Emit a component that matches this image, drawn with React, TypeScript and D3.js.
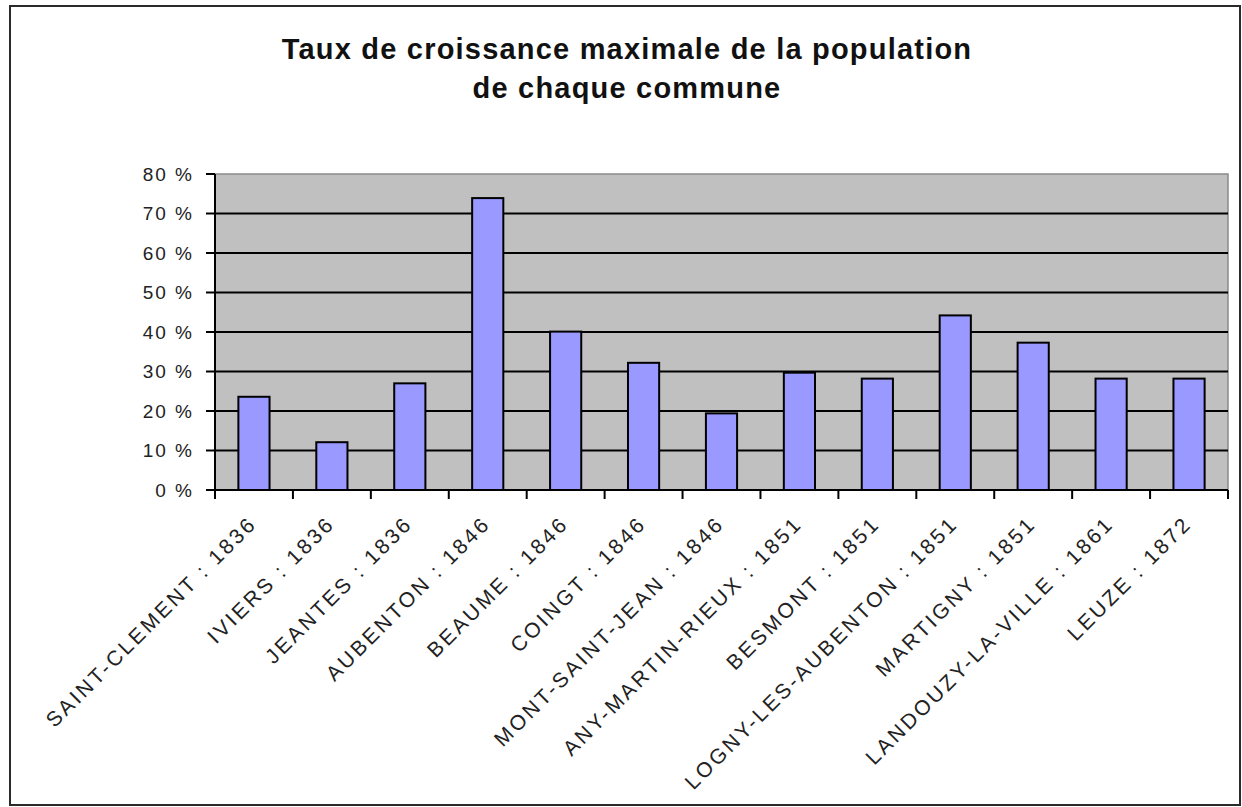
import React from "react";
import * as d3 from "d3";

const categories = [
  "SAINT-CLEMENT : 1836",
  "IVIERS : 1836",
  "JEANTES : 1836",
  "AUBENTON : 1846",
  "BEAUME : 1846",
  "COINGT : 1846",
  "MONT-SAINT-JEAN : 1846",
  "ANY-MARTIN-RIEUX : 1851",
  "BESMONT : 1851",
  "LOGNY-LES-AUBENTON : 1851",
  "MARTIGNY : 1851",
  "LANDOUZY-LA-VILLE : 1861",
  "LEUZE : 1872",
];
const values = [0.236, 0.121, 0.27, 0.739, 0.401, 0.322, 0.194, 0.297, 0.282, 0.442, 0.373, 0.282, 0.282];
const yTicks = [0, 0.1, 0.2, 0.3, 0.4, 0.5, 0.6, 0.7, 0.8];
const titleLines = ["Taux de croissance maximale de la population", "de chaque commune"];

const W = 1242;
const H = 807;
const plot = { left: 215, right: 1228, top: 174, bottom: 490 };

export default function App() {
  const x = d3
    .scaleBand<string>()
    .domain(categories)
    .range([plot.left, plot.right])
    .paddingInner(0.6)
    .paddingOuter(0.3);
  const y = d3.scaleLinear().domain([0, 0.8]).range([plot.bottom, plot.top]);
  const step = x.step();
  const boundaries = d3.range(categories.length + 1).map((i) => plot.left + i * step);
  const fmt = (v: number) => `${Math.round(v * 100)} %`;
  const font = "'Liberation Sans', Arial, sans-serif";

  return (
    <svg
      width={W}
      height={H}
      style={{ position: "absolute", left: 0, top: 0, background: "#fff" }}
      fontFamily={font}
    >
      <rect x={0} y={0} width={W} height={H} fill="#fff" />
      <rect x={10} y={6} width={1230} height={799} fill="#fff" stroke="#2a2a2a" strokeWidth={2} />

      {titleLines.map((t, i) => (
        <text
          key={t}
          x={627}
          y={59 + i * 39}
          textAnchor="middle"
          fontSize={29}
          fontWeight="bold"
          letterSpacing={1.2}
          fill="#111"
        >
          {t}
        </text>
      ))}

      {/* plot area */}
      <rect
        x={plot.left}
        y={plot.top}
        width={plot.right - plot.left}
        height={plot.bottom - plot.top}
        fill="#c0c0c0"
        stroke="#8a8a8a"
        strokeWidth={1.5}
      />
      {yTicks
        .filter((v) => v > 0 && v < 0.8)
        .map((v) => (
          <line
            key={"g" + v}
            x1={plot.left}
            x2={plot.right}
            y1={y(v)}
            y2={y(v)}
            stroke="#000"
            strokeWidth={2}
          />
        ))}

      {values.map((v, i) => (
        <rect
          key={categories[i]}
          x={x(categories[i])}
          y={y(v)}
          width={x.bandwidth()}
          height={y(0) - y(v)}
          fill="#9999ff"
          stroke="#000"
          strokeWidth={2}
        />
      ))}

      {/* axes */}
      <line x1={plot.left} x2={plot.left} y1={plot.top} y2={plot.bottom + 9} stroke="#000" strokeWidth={2} />
      <line x1={plot.left} x2={plot.right} y1={plot.bottom} y2={plot.bottom} stroke="#000" strokeWidth={2} />
      {yTicks.map((v) => (
        <g key={"t" + v}>
          <line x1={plot.left - 9} x2={plot.left} y1={y(v)} y2={y(v)} stroke="#000" strokeWidth={2} />
          <text
            x={194}
            y={y(v)}
            dy="0.36em"
            textAnchor="end"
            fontSize={19}
            letterSpacing={2}
            fill="#222"
          >
            {fmt(v)}
          </text>
        </g>
      ))}
      {boundaries.map((b, i) => (
        <line key={"b" + i} x1={b} x2={b} y1={plot.bottom} y2={plot.bottom + 9} stroke="#000" strokeWidth={2} />
      ))}
      {categories.map((c) => {
        const cx = (x(c) as number) + x.bandwidth() / 2;
        return (
          <text
            key={"l" + c}
            transform={`translate(${cx + 4},${525}) rotate(-45)`}
            textAnchor="end"
            fontSize={21}
            letterSpacing={2.8}
            fill="#222"
          >
            {c}
          </text>
        );
      })}
    </svg>
  );
}
